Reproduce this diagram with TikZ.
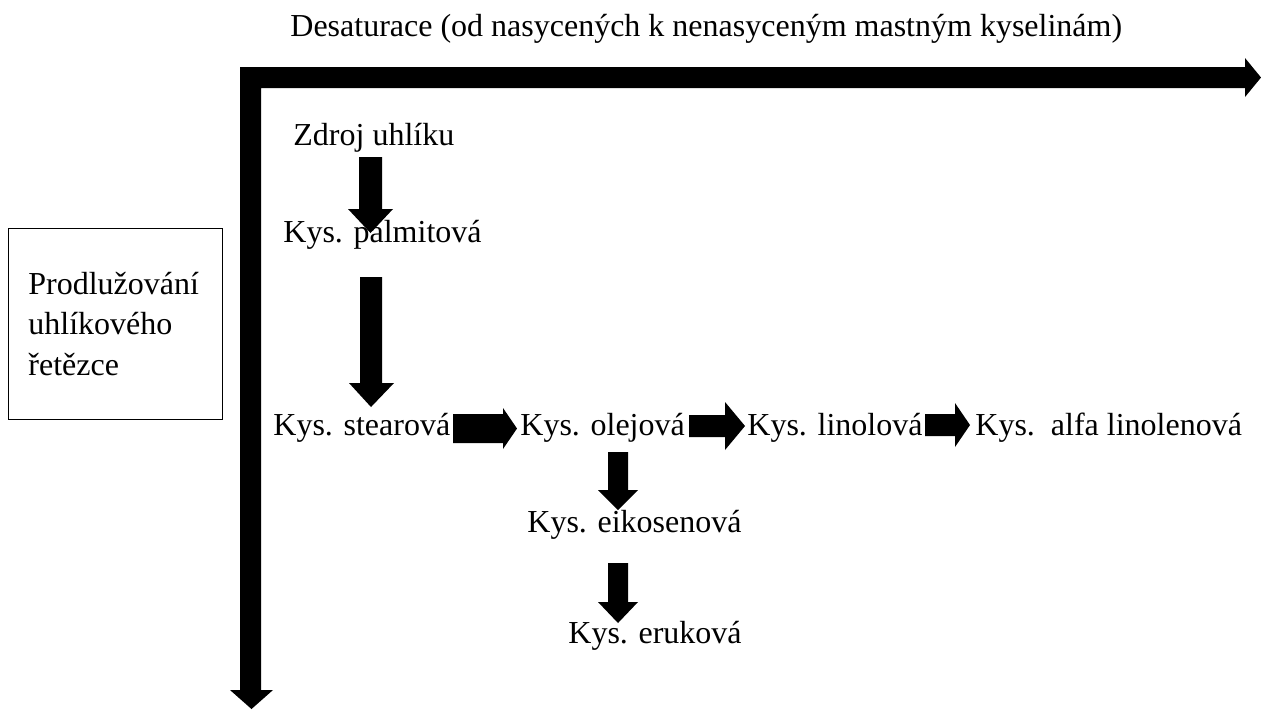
\documentclass[tikz,border=0pt]{standalone}
\usepackage{fontspec}
\setmainfont{Liberation Serif}
\begin{document}
\begin{tikzpicture}[x=0.5pt,y=-0.5pt,
  txt/.style={anchor=base west,inner sep=0pt,font=\fontsize{16}{18}\selectfont},
  blk/.style={fill=black,draw=none}]
\useasboundingbox (0,0) rectangle (1261,709);
% big L-shaped axes arrow
\fill[blk] (240,67) -- (1245,67) -- (1245,58) -- (1261,77.5) -- (1245,97) -- (1245,88)
  -- (261,88) -- (261,690) -- (273,690) -- (251.5,709) -- (230,690) -- (240,690) -- cycle;
% texts
\node[txt] (desat) at (290,36) {Desaturace (od nasycených k nenasyceným mastným kyselinám)};
\node[txt] (zdroj) at (293,145) {Zdroj uhlíku};
\node[txt] (palm) at (283,242) {Kys. palmitová};
\node[txt] (stear) at (273,435) {Kys. stearová};
\node[txt] (olej) at (520,435) {Kys. olejová};
\node[txt] (linol) at (747,435) {Kys. linolová};
\node[txt] (alfa) at (975,435) {Kys.\ \ alfa linolenová};
\node[txt] (eikos) at (527,532) {Kys. eikosenová};
\node[txt] (eruk) at (568,643) {Kys. eruková};
% side box
\node[draw,line width=0.6pt,anchor=north west,minimum width=107pt,minimum height=95.5pt,inner sep=0pt] (prod) at (8,228) {};
\node[txt] (p1) at (28,294) {Prodlužování};
\node[txt] (p2) at (28,334) {uhlíkového};
\node[txt] (p3) at (28,375) {řetězce};
% block arrows
% zdroj -> palm
\fill[blk] (359,157) -- (382,157) -- (382,209) -- (393,209) -- (370.5,233) -- (348,209) -- (359,209) -- cycle;
% palm -> stear
\fill[blk] (360,277) -- (382,277) -- (382,383) -- (394,383) -- (371,407) -- (349,383) -- (360,383) -- cycle;
% stear -> olej
\fill[blk] (453,414) -- (503,414) -- (503,408) -- (517,428.5) -- (503,449) -- (503,443) -- (453,443) -- cycle;
% olej -> linol
\fill[blk] (689,415) -- (725,415) -- (725,402) -- (745,426) -- (725,450) -- (725,437) -- (689,437) -- cycle;
% linol -> alfa
\fill[blk] (925,414) -- (955,414) -- (955,403) -- (970,425) -- (955,447) -- (955,436) -- (925,436) -- cycle;
% olej -> eikos
\fill[blk] (608,452) -- (628,452) -- (628,490) -- (638,490) -- (618,510) -- (598,490) -- (608,490) -- cycle;
% eikos -> eruk
\fill[blk] (608,563) -- (628,563) -- (628,602) -- (638,602) -- (618,623) -- (598,602) -- (608,602) -- cycle;
\end{tikzpicture}
\end{document}
